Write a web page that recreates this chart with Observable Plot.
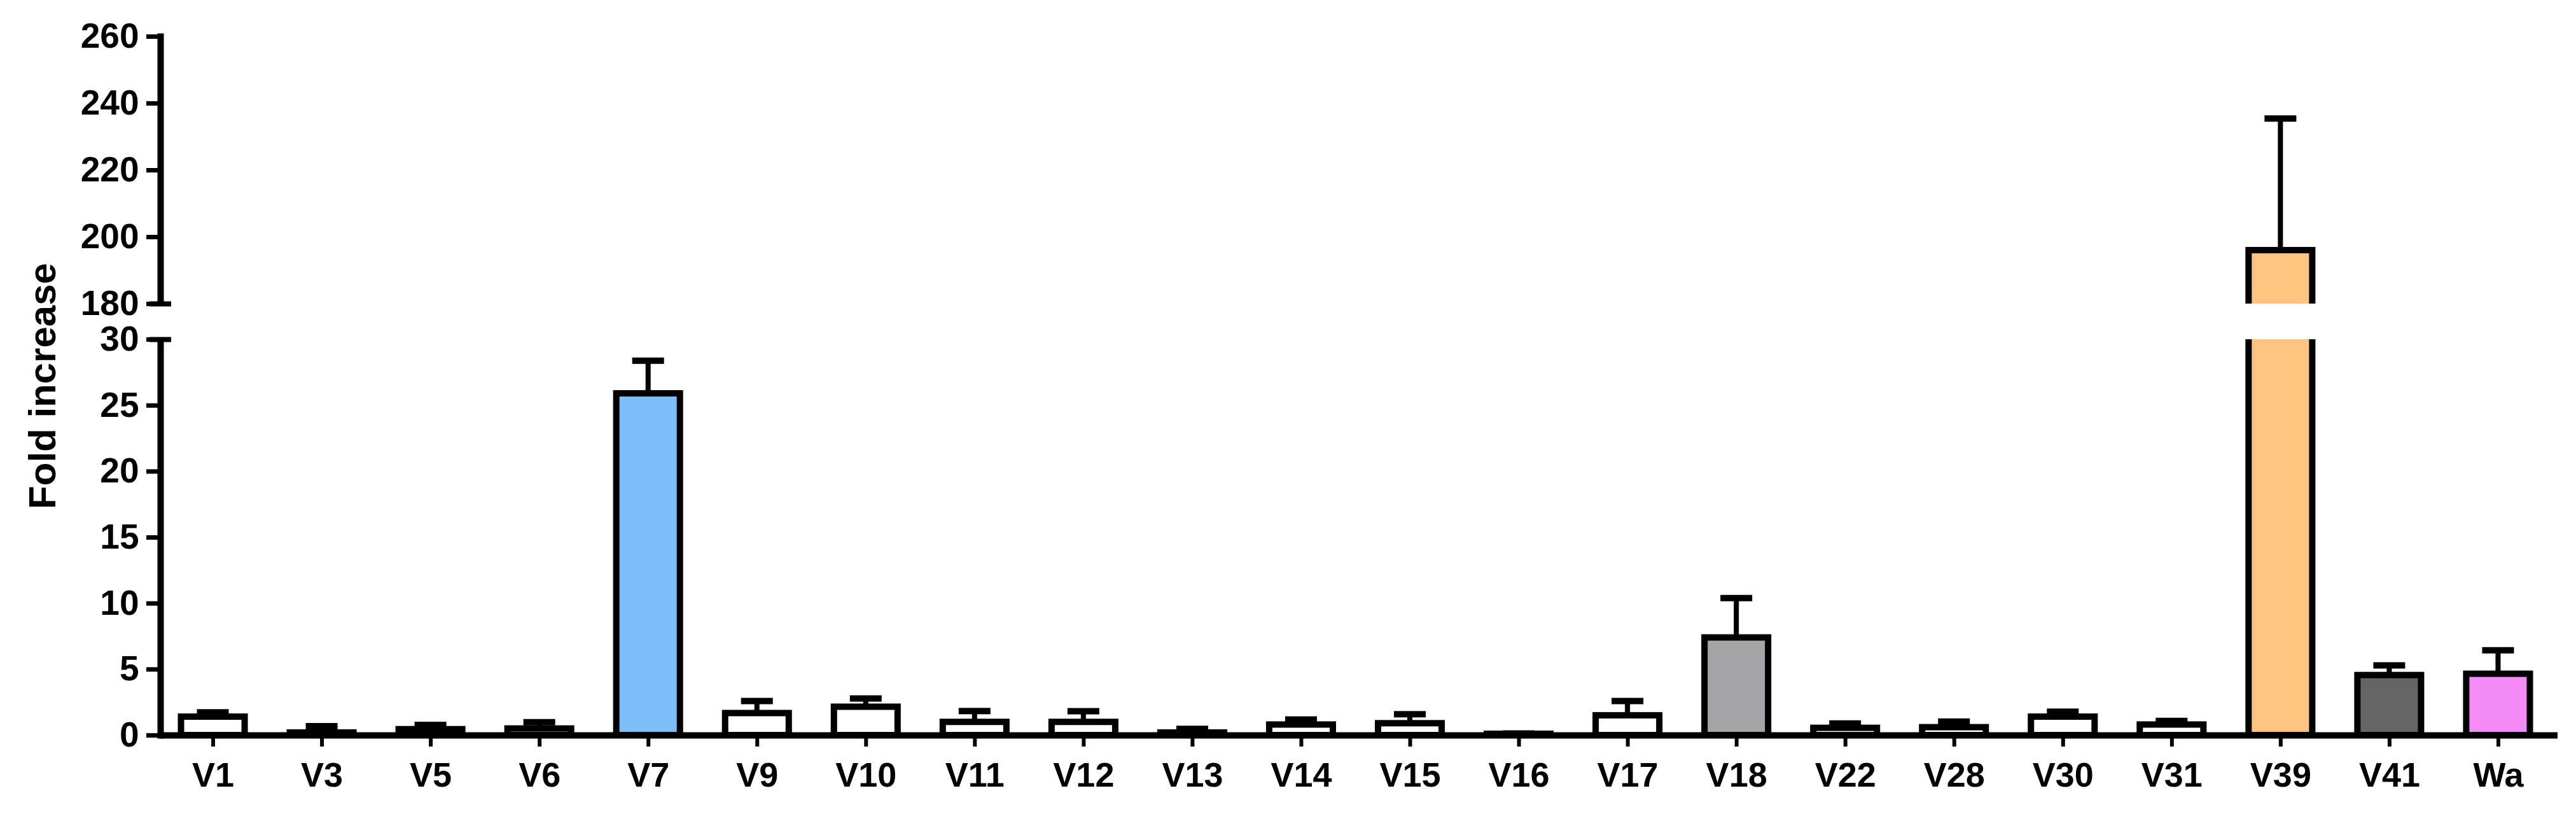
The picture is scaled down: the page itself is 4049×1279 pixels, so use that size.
<!DOCTYPE html>
<html>
<head>
<meta charset="utf-8">
<script src="https://cdn.jsdelivr.net/npm/d3@7"></script>
<script src="https://cdn.jsdelivr.net/npm/@observablehq/plot@0.6"></script>
<style>
  html, body { margin: 0; padding: 0; background: #fff; }
  #chart svg { display: block; }
</style>
</head>
<body>
<div id="chart"></div>
<script>
// ---- data ----
const categories = ["V1","V3","V5","V6","V7","V9","V10","V11","V12","V13","V14","V15","V16","V17","V18","V22","V28","V30","V31","V39","V41","Wa"];
const meanValues = [1.4, 0.2, 0.45, 0.5, 25.9, 1.67, 2.15, 1.0, 1.0, 0.2, 0.8, 0.9, 0.1, 1.5, 7.4, 0.55, 0.6, 1.4, 0.8, 196, 4.55, 4.65];
const errValues  = [0.35, 0.5, 0.35, 0.5, 2.5, 0.93, 0.65, 0.85, 0.83, 0.3, 0.4, 0.7, 0.05, 1.1, 3.0, 0.35, 0.45, 0.4, 0.3, 39.5, 0.75, 1.8];
const fillColors = ["#ffffff","#ffffff","#ffffff","#ffffff","#7bbffa","#ffffff","#ffffff","#ffffff","#ffffff","#ffffff","#ffffff","#ffffff","#ffffff","#ffffff","#a3a3a8","#ffffff","#ffffff","#ffffff","#ffffff","#ffc380","#646464","#f58bf7"];
const yTicks = [0, 5, 10, 15, 20, 25, 30, 180, 200, 220, 240, 260];
const breakTicks = [30, 180];
const axisBreak = [[30, 180]];
const yLabel = "Fold increase";

// ---- layout ----
const W = 4049, H = 1279;
const mTop = 57, mBottom = 124, mLeft = 252, mRight = 29;
const yDomain = [0, 30, 180, 260];
const yRange = [1155, 533, 477, 57];
const xRange = [249, 4012];
const padIn = 0.415, padOut = padIn / 2;
const step = (xRange[1] - xRange[0]) / categories.length;
const bw = step * (1 - padIn);
const stemW = 8, capW = 50;

const rows = categories.map((name, i) => ({name, value: meanValues[i], err: errValues[i]}));
const font = "'Liberation Sans', Arial, Helvetica, sans-serif";

const chart = Plot.plot({
  width: W, height: H,
  marginTop: mTop, marginBottom: mBottom, marginLeft: mLeft, marginRight: mRight,
  style: {fontFamily: font, fontWeight: "bold", background: "#fff", color: "#000", overflow: "visible"},
  x: {type: "band", domain: categories, range: xRange, paddingInner: padIn, paddingOuter: padOut, align: 0.5, round: false, axis: null},
  y: {type: "linear", domain: yDomain, range: yRange, axis: null},
  color: {type: "ordinal", domain: categories, range: fillColors},
  marks: [
    Plot.frame({anchor: "left", stroke: "#000", strokeWidth: 10}),
    Plot.ruleY([0], {stroke: "#000", strokeWidth: 10}),
    Plot.barY(rows, {x: "name", y: "value", fill: "name", stroke: "#000", strokeWidth: 10}),
    Plot.barY(rows, {x: "name", y1: "value", y2: d => d.value + d.err, fill: "#000",
      insetLeft: (bw - stemW) / 2, insetRight: (bw - stemW) / 2}),
    Plot.tickY(rows, {x: "name", y: d => d.value + d.err, stroke: "#000", strokeWidth: 10,
      insetLeft: (bw - capW) / 2, insetRight: (bw - capW) / 2}),
    Plot.rect(axisBreak, {y1: d => d[0], y2: d => d[1], fill: "#fff", insetLeft: -20}),
    Plot.axisY(yTicks, {anchor: "left", tickSize: 22, tickPadding: 12, strokeWidth: 7,
      fontSize: 55, fontWeight: "bold", label: null}),
    Plot.axisY(breakTicks, {anchor: "left", tickSize: 34, dx: 17, strokeWidth: 8,
      tickFormat: () => "", label: null}),
    Plot.axisX({anchor: "bottom", tickSize: 18, tickPadding: 24, strokeWidth: 6,
      fontSize: 54, fontWeight: "bold", label: null}),
    Plot.text([yLabel], {text: d => d, frameAnchor: "left", dx: -185, rotate: -90,
      textAnchor: "middle", lineAnchor: "middle",
      fontSize: 60, fontWeight: "bold", fill: "#000"})
  ]
});
document.getElementById("chart").appendChild(chart);
</script>
</body>
</html>
